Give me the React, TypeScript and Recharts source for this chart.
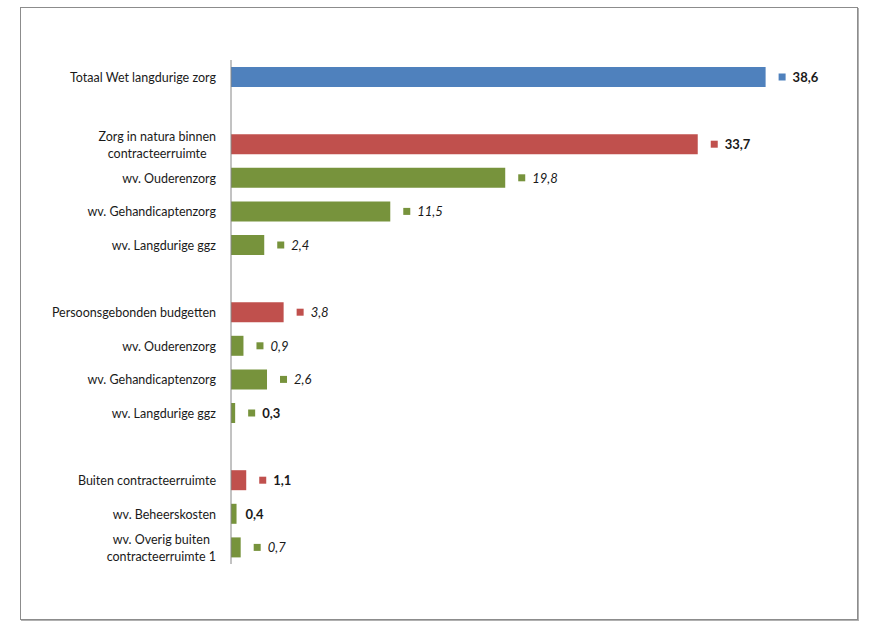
import { BarChart, Bar, XAxis, YAxis, Cell, LabelList } from 'recharts';

// rijen van boven naar beneden, lege rijen zijn tussenruimte
const categories = [
  'Totaal Wet langdurige zorg',
  '',
  'Zorg in natura binnen\ncontracteerruimte',
  'wv. Ouderenzorg',
  'wv. Gehandicaptenzorg',
  'wv. Langdurige ggz',
  '',
  'Persoonsgebonden budgetten',
  'wv. Ouderenzorg',
  'wv. Gehandicaptenzorg',
  'wv. Langdurige ggz',
  '',
  'Buiten contracteerruimte',
  'wv. Beheerskosten',
  'wv. Overig buiten\ncontracteerruimte 1',
];
const values = [38.6, null, 33.7, 19.8, 11.5, 2.4, null, 3.8, 0.9, 2.6, 0.3, null, 1.1, 0.4, 0.7];
const levels = ['totaal', '', 'hoofd', 'wv', 'wv', 'wv', '', 'hoofd', 'wv', 'wv', 'wv', '', 'hoofd', 'wv', 'wv'];
const labelKinds = ['bold', '', 'bold', 'italic', 'italic', 'italic', '', 'italic', 'italic', 'italic', 'bold', '', 'bold', 'plain-bold', 'italic'];

const colors: Record<string, string> = { totaal: '#4F81BD', hoofd: '#C0504D', wv: '#77933C' };
const FONT = 'Lato, "Open Sans", sans-serif';

const data = categories.map((c, i) => ({ row: i, value: values[i] }));

let ctx: CanvasRenderingContext2D | null = null;
const measure = (s: string, font: string) => {
  if (!ctx) ctx = document.createElement('canvas').getContext('2d');
  if (!ctx) return s.length * 5.6;
  ctx.font = font;
  return ctx.measureText(s).width;
};

const CategoryTick = ({ x, y, payload }: any) => {
  const label = categories[payload.index] || '';
  if (!label) return null;
  const lines = label.split('\n');
  const w = Math.max(...lines.map((l) => measure(l, `12.5px ${FONT}`)));
  const cx = x - 7 - w / 2;
  const lh = 17;
  const start = y - ((lines.length - 1) * lh) / 2;
  return (
    <text x={cx} y={start} textAnchor="middle" fontFamily={FONT} fontSize={12.5} fill="#1a1a1a" dominantBaseline="central">
      {lines.map((l, i) => (
        <tspan key={i} x={cx} y={start + i * lh} dominantBaseline="central">
          {l}
        </tspan>
      ))}
    </text>
  );
};

const ValueLabel = (props: any) => {
  const { x, y, width, height, value } = props;
  const row = Number(value);
  const v = values[row];
  if (v == null || Number.isNaN(row)) return null;
  const kind = labelKinds[row];
  const color = colors[levels[row]];
  const end = x + width;
  const cy = y + height / 2;
  const txt = String(v).replace('.', ',');
  const noMarker = kind === 'plain-bold';
  return (
    <g>
      {!noMarker && <rect x={end + 13} y={cy - 3.5} width={7} height={7} fill={color} />}
      <text
        x={noMarker ? end + 9 : end + 27}
        y={cy}
        dominantBaseline="central"
        fontFamily={FONT}
        fontSize={13}
        fontWeight={kind === 'italic' ? 400 : 700}
        fontStyle={kind === 'italic' ? 'italic' : 'normal'}
        fill="#1a1a1a"
      >
        {txt}
      </text>
    </g>
  );
};

export default function App() {
  return (
    <div style={{ position: 'absolute', left: 0, top: 0, width: 888, height: 631, background: '#fff' }}>
      <div
        style={{
          position: 'absolute',
          left: 20,
          top: 7,
          width: 836,
          height: 611,
          border: '1px solid #8c8c8c',
          boxShadow: '1px 1px 0 #b0b0b0',
        }}
      />
      <div style={{ position: 'absolute', left: 0, top: 0 }}>
        <BarChart
          width={888}
          height={631}
          data={data}
          layout="vertical"
          margin={{ top: 60, right: 103, bottom: 67, left: 0 }}
        >
          <XAxis type="number" domain={[0, 40]} hide />
          <YAxis
            type="category"
            dataKey="row"
            width={231}
            interval={0}
            tickLine={false}
            axisLine={{ stroke: '#868686' }}
            tick={<CategoryTick />}
          />
          <Bar dataKey="value" barSize={20} isAnimationActive={false}>
            {data.map((d, i) => (
              <Cell key={i} fill={colors[levels[i]] || '#fff'} />
            ))}
            <LabelList dataKey="row" content={<ValueLabel />} />
          </Bar>
        </BarChart>
      </div>
    </div>
  );
}
